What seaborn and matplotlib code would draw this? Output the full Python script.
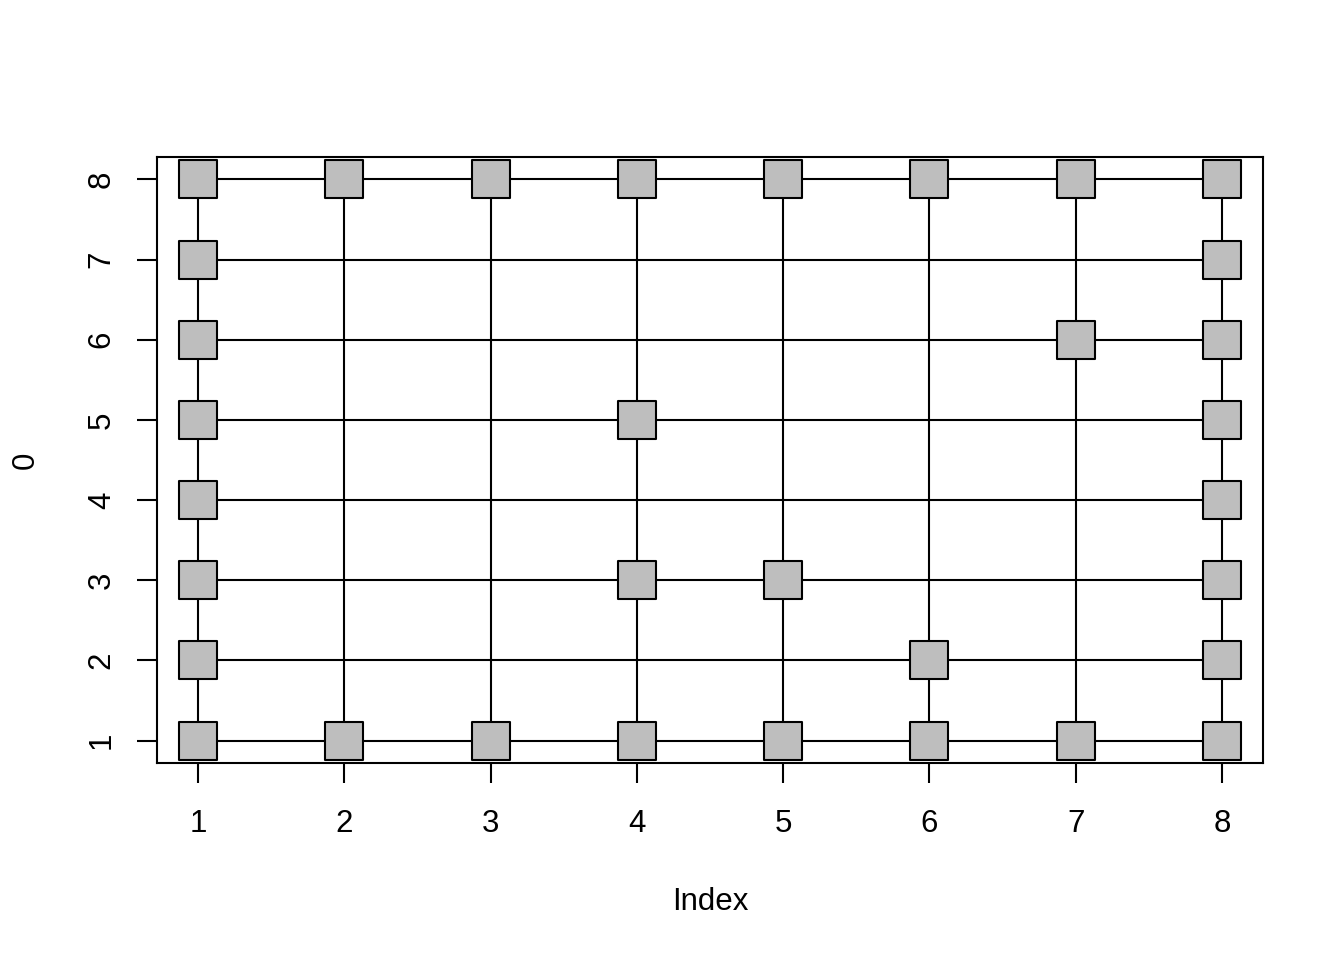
import numpy as np
import pandas as pd
import matplotlib
matplotlib.use("Agg")
import matplotlib.pyplot as plt
import seaborn as sns

# grid positions
grid_x = [1, 2, 3, 4, 5, 6, 7, 8]
grid_y = [1, 2, 3, 4, 5, 6, 7, 8]

# squares present on each row (y value -> x values)
pts_x = [1, 2, 3, 4, 5, 6, 7, 8,
         1, 8,
         1, 7, 8,
         1, 4, 8,
         1, 8,
         1, 4, 5, 8,
         1, 6, 8,
         1, 2, 3, 4, 5, 6, 7, 8]
pts_y = [8] * 8 + [7] * 2 + [6] * 3 + [5] * 3 + [4] * 2 + [3] * 4 + [2] * 3 + [1] * 8

df = pd.DataFrame({"x": pts_x, "y": pts_y})

sns.set_theme(style="white")
plt.rcParams['font.family'] = ['Liberation Sans', 'DejaVu Sans']
plt.rcParams['text.color'] = 'black'
plt.rcParams['axes.labelcolor'] = 'black'
plt.rcParams['xtick.color'] = 'black'
plt.rcParams['ytick.color'] = 'black'

fig = plt.figure(figsize=(13.44, 9.6), dpi=100)
ax = fig.add_axes([157 / 1344, 197 / 960, 1106 / 1344, 606 / 960])

# lines of the grid
for yv in grid_y:
    ax.plot([min(grid_x), max(grid_x)], [yv, yv], color="black", lw=1.5, zorder=1)
for xv in grid_x:
    ax.plot([xv, xv], [min(grid_y), max(grid_y)], color="black", lw=1.5, zorder=1)

sns.scatterplot(data=df, x="x", y="y", ax=ax, marker="s", s=27.4 ** 2,
                color="#BEBEBE", edgecolor="black", linewidth=1.5, zorder=3,
                legend=False)

ax.set_xlim(0.72, 8.28)
ax.set_ylim(0.72, 8.28)
ax.set_xticks(grid_x)
ax.set_yticks(grid_y)
ax.set_xticklabels([str(v) for v in grid_x], fontsize=22.5)
ax.set_yticklabels([str(v) for v in grid_y], fontsize=22.5, rotation=90, va="center")
ax.tick_params(axis="both", direction="out", length=14.4, width=1.5, color="black",
               bottom=True, left=True)
ax.tick_params(axis="x", pad=19)
ax.tick_params(axis="y", pad=14.5)
ax.set_xlabel("Index", fontsize=22.5, labelpad=34)
ax.set_ylabel("0", fontsize=22.5, labelpad=33)
for sp in ax.spines.values():
    sp.set_visible(True)
    sp.set_color("black")
    sp.set_linewidth(1.5)
ax.grid(False)

fig.savefig("out.png", dpi=100, facecolor="white")
